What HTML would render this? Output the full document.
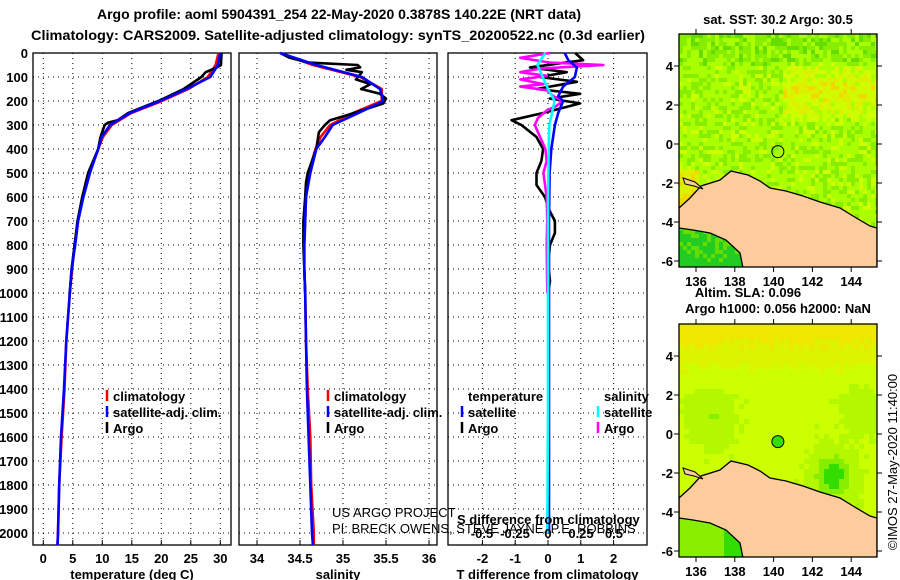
<!DOCTYPE html>
<html><head><meta charset="utf-8"><style>
html,body{margin:0;padding:0;background:#fff;}
svg{display:block;font-family:"Liberation Sans",Arial,sans-serif;}
.b{font-weight:bold;font-size:13px;}
.t{font-weight:bold;font-size:14px;}
.g{stroke:#000;stroke-width:1;stroke-dasharray:1,4;fill:none;}
.f{fill:none;stroke:#000;stroke-width:1.3;}
.l{fill:none;stroke-width:2.6;stroke-linejoin:round;}
.lg{font-weight:bold;font-size:13px;}
</style></head><body>
<svg id="chart" width="900" height="580" viewBox="0 0 900 580" xmlns="http://www.w3.org/2000/svg">
<text x="339" y="19" text-anchor="middle" class="t">Argo profile: aoml 5904391_254 22-May-2020 0.3878S 140.22E (NRT data)</text>
<text x="338" y="40" text-anchor="middle" class="t" textLength="614" lengthAdjust="spacingAndGlyphs">Climatology: CARS2009. Satellite-adjusted climatology: synTS_20200522.nc (0.3d earlier)</text>
<g id="p1"></g>
<g id="p2"></g>
<g id="p3"></g>
<g id="m1"></g>
<g id="m2"></g>
<text x="778" y="24" text-anchor="middle" class="b">sat. SST: 30.2 Argo: 30.5</text>
<text x="748" y="297" text-anchor="middle" class="b">Altim. SLA: 0.096</text>
<text x="778" y="313" text-anchor="middle" class="b">Argo h1000: 0.056 h2000: NaN</text>
<text transform="translate(897,462) rotate(-90)" text-anchor="middle" style="font-size:13px">©IMOS 27-May-2020 11:40:00</text>
</svg>
<script>
// ---- data ----
const depthTicks=[0,100,200,300,400,500,600,700,800,900,1000,1100,1200,1300,1400,1500,1600,1700,1800,1900,2000];
const tempTicks=[0,5,10,15,20,25,30];
const salTicks=[34,34.5,35,35.5,36];
const salTickLabels=["34","34.5","35","35.5","36"];
const tdTicks=[-2,-1,0,1,2];
const sdTicks=[-0.5,-0.25,0,0.25,0.5];
const sdTickLabels=["-0.5","-0.25","0","0.25","0.5"];

const climDepth=[0,50,100,150,200,250,300,350,400,500,600,700,800,900,1000,1200,1400,1600,1800,2000,2050];
const tempSat=[30.0,29.6,28.3,24.3,19.8,14.7,11.3,9.9,9.3,7.9,6.8,5.9,5.4,4.8,4.5,3.9,3.5,3.0,2.7,2.5,2.4];
const tempClim=[29.7,29.2,27.9,24.6,20.1,14.9,11.6,10.1,9.3,7.8,6.7,5.9,5.3,4.9,4.5,3.9,3.6,3.1,2.7,2.5,2.4];
const salSat=[34.27,34.69,35.22,35.43,35.47,35.18,34.88,34.79,34.69,34.62,34.57,34.56,34.55,34.55,34.56,34.57,34.58,34.60,34.62,34.64,34.65];
const salClim=[34.27,34.65,35.20,35.45,35.45,35.12,34.85,34.74,34.68,34.60,34.57,34.56,34.55,34.55,34.56,34.57,34.59,34.62,34.63,34.66,34.66];

const argoTDepth=[0,50,60,80,100,150,200,250,280,290,300,350,400,500,600,700,800,900,1000];
const argoTemp=[30.2,30.1,29.4,27.5,26.8,23.8,19.5,14.4,12.6,11.0,10.4,9.7,9.3,7.6,6.6,5.8,5.3,4.8,4.5];
const argoSDepth=[0,20,40,50,60,70,80,110,130,150,170,190,210,230,260,280,300,330,400,500,540,600,700,800,900,1000];
const argoSal=[34.27,34.38,34.60,35.17,35.20,35.04,35.22,35.15,35.32,35.21,35.43,35.50,35.47,35.30,35.04,34.85,34.79,34.72,34.69,34.59,34.57,34.56,34.54,34.54,34.55,34.56];

const tdArgoDepth=[0,30,60,80,100,120,150,170,190,210,250,280,300,350,400,450,500,550,600,650,700,750,800,850,900,950,1000];
const tdArgo=[0.83,1.07,-0.55,0.57,-0.25,0.88,-0.35,0.98,0.06,0.98,-0.15,-1.11,-0.81,-0.35,-0.15,-0.2,-0.35,-0.35,-0.09,0.02,0.21,0.21,0.06,0.02,0.02,0.06,0.0];
const tdSatDepth=[0,30,60,100,140,180,200,250,300,400,500,700,1000,1500,2000];
const tdSat=[0.51,0.62,0.88,0.82,0.46,0.31,0.46,0.31,0.21,0.10,0.05,0.03,0.03,0.03,0.03];
const sdArgoDepth=[0,20,40,50,65,80,95,110,130,140,155,180,200,220,240,270,300,350,400,450,500,600,700,800,1000];
const sdArgo=[0.015,-0.21,0.015,0.42,-0.06,-0.21,-0.01,-0.21,-0.035,-0.21,-0.01,0.04,0.11,0.066,-0.01,-0.075,-0.1,-0.06,-0.02,-0.01,-0.035,-0.01,-0.005,-0.01,-0.005];
const sdSatDepth=[0,50,100,150,200,300,400,600,1000,1500,2000];
const sdSat=[-0.02,-0.08,-0.04,0.0,0.05,0.01,0.005,0.0,0.0,0.0,-0.005];

// ---- helpers ----
const NS="http://www.w3.org/2000/svg";
function mk(p,tag,at,txt){const e=document.createElementNS(NS,tag);for(const k in at)e.setAttribute(k,at[k]);if(txt!==undefined)e.textContent=txt;p.appendChild(e);return e;}
const Y0=53,Y1=545;
const yD=d=>Y0+d*0.24;
function path(xs,ds,xf){return xs.map((v,i)=>(i?'L':'M')+xf(v).toFixed(1)+','+yD(ds[i]).toFixed(1)).join('');}

function panel(g,x0,x1,ticks,labels,xf,title){
  for(const d of depthTicks){const l=mk(g,'line',{x1:x0,x2:x1,y1:yD(d),y2:yD(d),class:'g'});
    }
  ticks.forEach((t,i)=>{const x=xf(t);
    const l=mk(g,'line',{x1:x,x2:x,y1:Y0,y2:Y1,class:'g'});
    
    const tx=mk(g,'text',{x:x,y:563,'text-anchor':'middle',class:'b'},labels[i]);
    
    const tk=mk(g,'line',{x1:x,x2:x,y1:Y1,y2:Y1-5,stroke:'#000'});
    });
  const f=mk(g,'rect',{x:x0,y:Y0,width:x1-x0,height:Y1-Y0,class:'f'});
  
  const tt=mk(g,'text',{x:(x0+x1)/2,y:579,'text-anchor':'middle',class:'b'},title);
  
}
function line(g,xs,ds,xf,col,name){const p=mk(g,'path',{d:path(xs,ds,xf),class:'l',stroke:col});
  }
function leg(g,x,y,col,txt,name){const m=mk(g,'line',{x1:x,x2:x,y1:y-11,y2:y,stroke:col,'stroke-width':2.5});
  
  const t=mk(g,'text',{x:x+6,y:y,class:'lg'},txt);
  }

// panel 1
const p1=document.getElementById('p1');
const xT=t=>43.3+t*5.9;
panel(p1,33,231,tempTicks,tempTicks.map(String),xT,'temperature (deg C)');
depthTicks.forEach(d=>{const t=mk(p1,'text',{x:28,y:yD(d)+5,'text-anchor':'end',class:'b'},String(d));
  });
line(p1,tempClim,climDepth,xT,'#f00','temp-climatology-line');
line(p1,argoTemp,argoTDepth,xT,'#000','temp-argo-line');
line(p1,tempSat,climDepth,xT,'#00f','temp-satellite-line');
leg(p1,107,401,'#f00','climatology','legend-climatology');
leg(p1,107,417,'#00f','satellite-adj. clim.','legend-satellite');
leg(p1,107,433,'#000','Argo','legend-argo');

// panel 2
const p2=document.getElementById('p2');
const xS=s=>257+(s-34)*86;
panel(p2,239,437,salTicks,salTickLabels,xS,'salinity');
line(p2,salClim,climDepth,xS,'#f00','sal-climatology-line');
line(p2,argoSal,argoSDepth,xS,'#000','sal-argo-line');
line(p2,salSat,climDepth,xS,'#00f','sal-satellite-line');
leg(p2,328,401,'#f00','climatology','legend-sal-climatology');
leg(p2,328,417,'#00f','satellite-adj. clim.','legend-sal-satellite');
leg(p2,328,433,'#000','Argo','legend-sal-argo');
const us=mk(p2,'text',{x:332,y:517,style:'font-size:13px'},'US ARGO PROJECT');


// panel 3
const p3=document.getElementById('p3');
const xTD=t=>548+t*32.8;
const xSD=s=>548+s*132;
panel(p3,448,647,tdTicks,tdTicks.map(String),xTD,'T difference from climatology');
line(p3,tdArgo,tdArgoDepth,xTD,'#000','tdiff-argo-line');
line(p3,sdArgo,sdArgoDepth,xSD,'#f0f','sdiff-argo-line');
line(p3,tdSat,tdSatDepth,xTD,'#00f','tdiff-satellite-line');
line(p3,sdSat,sdSatDepth,xSD,'#0ff','sdiff-satellite-line');
const th=mk(p3,'text',{x:468,y:401,class:'lg'},'temperature');
const sh=mk(p3,'text',{x:604,y:401,class:'lg'},'salinity');
leg(p3,462,417,'#00f','satellite','legend-t-satellite');
leg(p3,462,433,'#000','Argo','legend-t-argo');
leg(p3,598,417,'#0ff','satellite','legend-s-satellite');
leg(p3,598,433,'#f0f','Argo','legend-s-argo');
const st=mk(p3,'text',{x:457,y:524,class:'lg'},'S difference from climatology');
sdTicks.forEach((s,i)=>{const t=mk(p3,'text',{x:xSD(s),y:538,'text-anchor':'middle',class:'lg'},sdTickLabels[i]);
  });
const pi=mk(document.getElementById('chart'),'text',{x:332,y:533,style:'font-size:13px'},'PI: BRECK OWENS, STEVE JAYNE, P.E. ROBBINS');


// ---- maps ----
const lonTicks=[136,138,140,142,144];
const latTicks=[4,2,0,-2,-4,-6];
function hsh(i,j){let h=(i*374761393+j*668265263)^0x5bd1e995;h=(h^(h>>>13))*1274126177;return ((h^(h>>>16))>>>0)/4294967295;}
const land=[[0,174],[11,164],[22,152],[41,146],[52,137],[69,141],[81,147],[91,154],[107,157],[124,162],[141,168],[161,174],[174,182],[191,192],[198,194],[198,234],[64,234],[61,219],[47,206],[31,199],[14,196],[0,194]];
function drawMap(g,ox,oy,kind){
  const W=198,H=233,cs=kind===1?4:5;
  const cl=mk(g,'clipPath',{id:'clip'+kind});mk(cl,'rect',{x:ox,y:oy,width:W,height:H});
  const cg=mk(g,'g',{'clip-path':'url(#clip'+kind+')'});
  for(let j=0;j*cs<H;j++)for(let i=0;i*cs<W;i++){
    const px=i*cs,py=j*cs;let c;
    if(kind===1){
      let v=0.45+0.3*hsh(i,j)-0.12;
      if(px>100&&py>25&&py<90)v+=0.28*Math.max(0,1-Math.abs(py-55)/40);
      if(py<30)v-=0.1;
      if(px<20&&py>135&&py<200)v+=0.35;
      if(py>190&&px<70)v=0.05+0.15*hsh(j,i);
      c=v<0.15?'#22cc22':v<0.3?'#66dd00':v<0.42?'#88ee00':v<0.58?'#aaff00':v<0.7?'#ccff00':v<0.82?'#ddf000':'#f0d800';
    }else{
      let v=0.55;
      if(py<70)v+=0.2*(1-py/70);
      v-=0.35*Math.exp(-(((px-152)/18)**2+((py-150)/22)**2));
      v-=0.15*Math.exp(-(((px-30)/20)**2+((py-90)/25)**2));
      v-=0.12*Math.exp(-(((px-180)/18)**2+((py-80)/25)**2));
      if(py>190&&px<70)v=0.3-0.15*(px>40?1:0);
      v+=0.04*hsh(i,j);
      c=v<0.3?'#33dd00':v<0.42?'#88ee00':v<0.55?'#b4f800':v<0.65?'#ccff00':v<0.72?'#dcf400':'#eee800';
    }
    mk(cg,'rect',{x:ox+px,y:oy+py,width:cs,height:cs,fill:c});
  }
  const lp=mk(cg,'polygon',{points:land.map(p=>(ox+p[0])+','+(oy+p[1])).join(' '),fill:'#fccc9c',stroke:'#000','stroke-width':1.3});
  
  const isl=mk(cg,'polygon',{points:[[4,144],[16,148],[24,155],[15,152],[6,150]].map(p=>(ox+p[0])+','+(oy+p[1])).join(' '),fill:'#fccc9c',stroke:'#000','stroke-width':1});
  
  const ax=(lon)=>ox+17+(lon-136)*19.4, ay=(lat)=>oy+32+(4-lat)*19.5;
  const cir=mk(g,'circle',{cx:ax(140.22),cy:ay(-0.39),r:6,fill:kind===1?'none':'#33dd00',stroke:'#000','stroke-width':1});
  
  const fr=mk(g,'rect',{x:ox,y:oy,width:W,height:H,fill:'none',stroke:'#000','stroke-width':1.3});
  
  lonTicks.forEach(l=>{const x=ax(l);mk(g,'line',{x1:x,x2:x,y1:oy,y2:oy-5,stroke:'#000'});mk(g,'line',{x1:x,x2:x,y1:oy+H,y2:oy+H+5,stroke:'#000'});
    const t=mk(g,'text',{x:x,y:oy+H+19,'text-anchor':'middle',class:'b'},String(l));
    });
  latTicks.forEach(l=>{const y=ay(l);mk(g,'line',{x1:ox,x2:ox-5,y1:y,y2:y,stroke:'#000'});mk(g,'line',{x1:ox+W,x2:ox+W+5,y1:y,y2:y,stroke:'#000'});
    const t=mk(g,'text',{x:ox-6,y:y+5,'text-anchor':'end',class:'b'},String(l));
    });
}
drawMap(document.getElementById('m1'),679,34,1);
drawMap(document.getElementById('m2'),679,324,2);
</script>
</body></html>
